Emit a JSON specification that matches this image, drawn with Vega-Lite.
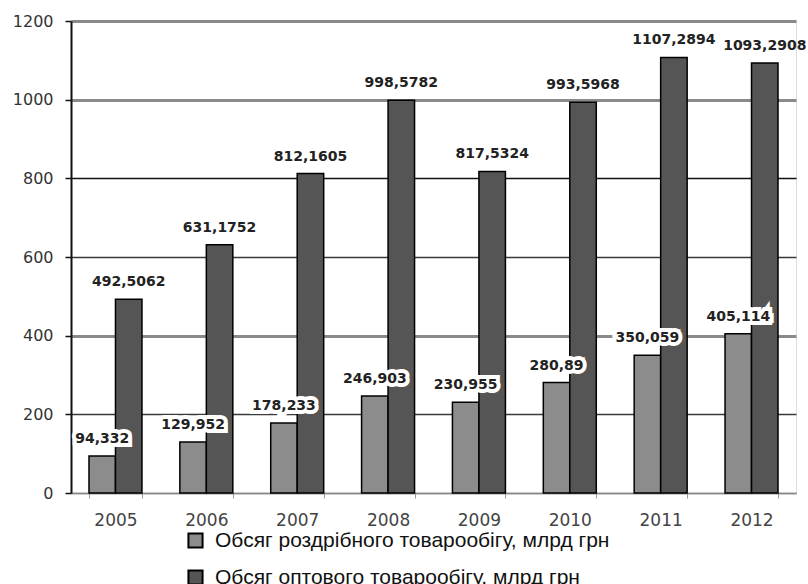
{
  "$schema": "https://vega.github.io/schema/vega-lite/v6.json",
  "autosize": {"type": "none"},
  "padding": {"left": 71, "top": 21, "right": 12, "bottom": 91},
  "width": 725,
  "height": 472,
  "background": "white",
  "data": {
    "values": [
      {"year": "2005", "series": "Обсяг роздрібного товарообігу, млрд грн", "value": 94.332},
      {"year": "2005", "series": "Обсяг оптового товарообігу, млрд грн", "value": 492.5062},
      {"year": "2006", "series": "Обсяг роздрібного товарообігу, млрд грн", "value": 129.952},
      {"year": "2006", "series": "Обсяг оптового товарообігу, млрд грн", "value": 631.1752},
      {"year": "2007", "series": "Обсяг роздрібного товарообігу, млрд грн", "value": 178.233},
      {"year": "2007", "series": "Обсяг оптового товарообігу, млрд грн", "value": 812.1605},
      {"year": "2008", "series": "Обсяг роздрібного товарообігу, млрд грн", "value": 246.903},
      {"year": "2008", "series": "Обсяг оптового товарообігу, млрд грн", "value": 998.5782},
      {"year": "2009", "series": "Обсяг роздрібного товарообігу, млрд грн", "value": 230.955},
      {"year": "2009", "series": "Обсяг оптового товарообігу, млрд грн", "value": 817.5324},
      {"year": "2010", "series": "Обсяг роздрібного товарообігу, млрд грн", "value": 280.89},
      {"year": "2010", "series": "Обсяг оптового товарообігу, млрд грн", "value": 993.5968},
      {"year": "2011", "series": "Обсяг роздрібного товарообігу, млрд грн", "value": 350.059},
      {"year": "2011", "series": "Обсяг оптового товарообігу, млрд грн", "value": 1107.2894},
      {"year": "2012", "series": "Обсяг роздрібного товарообігу, млрд грн", "value": 405.114},
      {"year": "2012", "series": "Обсяг оптового товарообігу, млрд грн", "value": 1093.2908}
    ]
  },
  "transform": [
    {"calculate": "replace(toString(datum.value), '.', ',')", "as": "label"}
  ],
  "encoding": {
    "x": {
      "field": "year", "type": "nominal", "title": null,
      "scale": {"paddingInner": 0.417, "paddingOuter": 0.198},
      "axis": {
        "labelAngle": 0, "labelFont": "DejaVu Sans", "labelFontSize": 17,
        "labelColor": "#444", "labelPadding": 14, "tickBand": "extent",
        "tickColor": "#999", "tickSize": 5, "domainColor": "#888", "domainWidth": 1.5
      }
    },
    "xOffset": {
      "field": "series", "type": "nominal",
      "sort": ["Обсяг роздрібного товарообігу, млрд грн", "Обсяг оптового товарообігу, млрд грн"],
      "scale": {"paddingInner": 0}
    },
    "y": {
      "field": "value", "type": "quantitative", "title": null,
      "scale": {"domain": [0, 1200], "nice": false},
      "axis": {
        "values": [0, 200, 400, 600, 800, 1000, 1200], "format": "d",
        "labelFont": "DejaVu Sans", "labelFontSize": 16, "labelColor": "#333",
        "labelPadding": 12, "tickColor": "#111", "tickSize": 6, "tickWidth": 1.5,
        "domainColor": "#111", "domainWidth": 2,
        "gridColor": {"condition": [
          {"test": "datum.value === 800", "value": "#111"},
          {"test": "datum.value === 200 || datum.value === 600", "value": "#3a3a3a"}
        ], "value": "#8a8a8a"},
        "gridWidth": {"condition": {"test": "datum.value === 1200 || datum.value === 1000 || datum.value === 400", "value": 3}, "value": 1.6}
      }
    }
  },
  "layer": [
    {
      "mark": {"type": "bar", "stroke": "#000", "strokeWidth": 1.5},
      "encoding": {
        "fill": {
          "field": "series", "type": "nominal",
          "sort": ["Обсяг роздрібного товарообігу, млрд грн", "Обсяг оптового товарообігу, млрд грн"],
          "scale": {"range": ["#8c8c8c", "#555555"]},
          "legend": {
            "title": null, "orient": "none", "legendX": 114, "legendY": 509,
            "direction": "vertical", "symbolType": "square", "symbolSize": 200,
            "symbolStrokeColor": "#000", "symbolStrokeWidth": 2,
            "labelFont": "Liberation Sans", "labelFontSize": 21, "labelColor": "#111",
            "rowPadding": 14, "labelOffset": 9, "labelLimit": 700
          }
        }
      }
    },
    {
      "transform": [{"filter": "datum.series === 'Обсяг роздрібного товарообігу, млрд грн'"}],
      "mark": {"type": "text", "baseline": "alphabetic", "dy": -13, "font": "DejaVu Sans", "fontSize": 14, "fontWeight": "bold", "color": "white", "stroke": "white", "strokeWidth": 8, "strokeJoin": "miter"},
      "encoding": {"text": {"field": "label"}}
    },
    {
      "mark": {"type": "text", "baseline": "alphabetic", "dy": -13, "font": "DejaVu Sans", "fontSize": 14, "fontWeight": "bold", "color": "#222"},
      "encoding": {"text": {"field": "label"}}
    }
  ]
}
